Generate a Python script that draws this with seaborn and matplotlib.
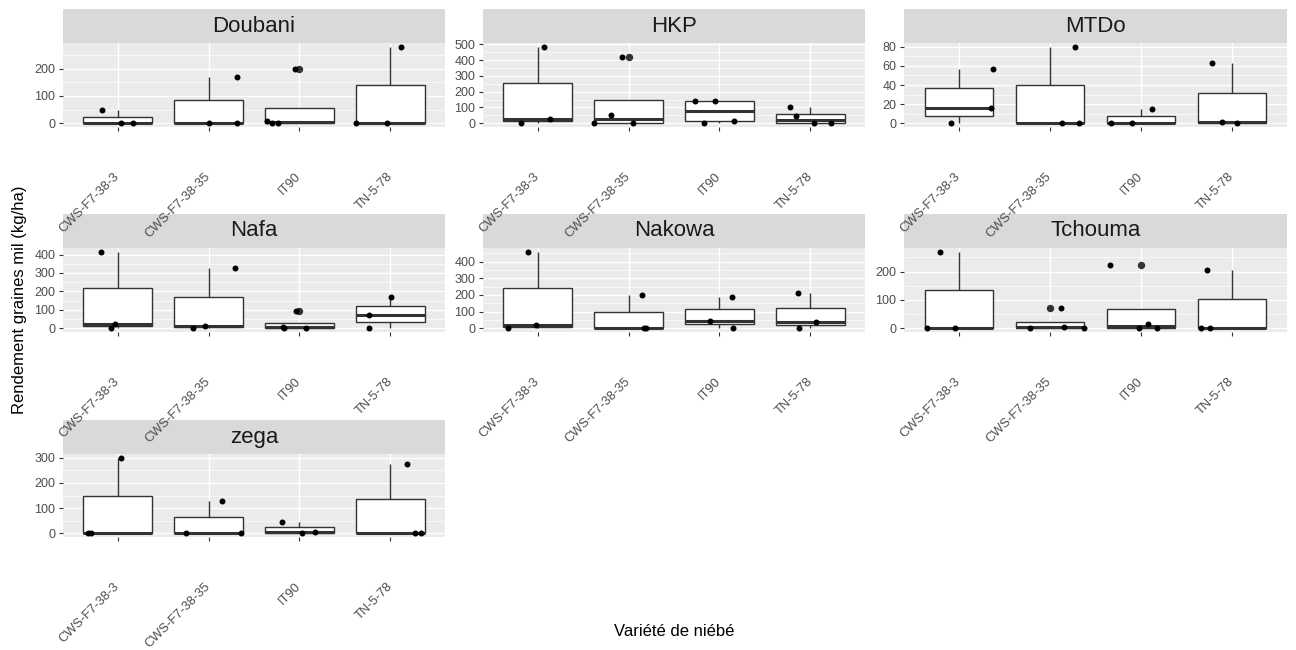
import numpy as np
import pandas as pd
import seaborn as sns
import matplotlib.pyplot as plt
from matplotlib.patches import Rectangle
from matplotlib.ticker import MultipleLocator

plt.rcParams['font.family'] = ['Liberation Sans', 'DejaVu Sans']

# données
varietes = ["CWS-F7-38-3", "CWS-F7-38-35", "IT90", "TN-5-78"]
sites = ["Doubani", "HKP", "MTDo", "Nafa", "Nakowa", "Tchouma", "zega"]

# rendement (kg/ha) par variété, même ordre que varietes
doubani = [[0, 0, 47], [0, 0, 170], [0, 0, 7, 200], [0, 0, 280]]
hkp = [[0, 25, 485], [0, 0, 55, 420], [0, 15, 140, 140], [0, 0, 45, 100]]
mtdo = [[0, 16, 57], [0, 0, 80], [0, 0, 15], [0, 1, 63]]
nafa = [[0, 25, 415], [0, 10, 325], [0, 3, 5, 95], [0, 70, 170]]
nakowa = [[0, 20, 460], [0, 0, 200], [0, 45, 185], [0, 35, 210]]
tchouma = [[0, 0, 270], [0, 0, 5, 70], [0, 0, 15, 225], [0, 0, 205]]
zega = [[0, 0, 300], [0, 0, 127], [0, 3, 45], [0, 0, 275]]

# pas des graduations y par site
pas_y = [100, 100, 20, 100, 100, 100, 100]

lignes = []
for site, blocs in zip(sites, [doubani, hkp, mtdo, nafa, nakowa, tchouma, zega]):
    for var, vals in zip(varietes, blocs):
        for v in vals:
            lignes.append((site, var, v))
df = pd.DataFrame(lignes, columns=["site", "variete", "rendement"])

np.random.seed(3)

W, H = 1296, 650
fig = plt.figure(figsize=(W / 100, H / 100), dpi=100)
fig.patch.set_facecolor('white')

cols = [(63, 382), (483, 382), (904, 383)]
rangs = [(43, 127), (248, 332), (454, 537)]
strip_h = 34

for i, site in enumerate(sites):
    r, c = divmod(i, 3)
    x0, w = cols[c]
    top, bot = rangs[r]
    h = bot - top
    ax = fig.add_axes([x0 / W, 1 - bot / H, w / W, h / H])
    ax.set_zorder(10 - r)
    sub = df[df.site == site]

    sns.boxplot(data=sub, x='variete', y='rendement', order=varietes, ax=ax,
                color='white', linecolor='#333333', linewidth=1.0, width=0.75,
                showcaps=False,
                medianprops={'linewidth': 2.2},
                flierprops={'marker': 'o', 'markerfacecolor': '#333333',
                            'markeredgecolor': '#333333', 'markersize': 4.3})
    sns.stripplot(data=sub, x='variete', y='rendement', order=varietes, ax=ax,
                  jitter=0.4, color='black', size=4.3, linewidth=0, zorder=3)

    lo, hi = sub.rendement.min(), sub.rendement.max()
    pad = 0.05 * (hi - lo)
    ax.set_xlim(-0.6, 3.6)
    ax.set_ylim(lo - pad, hi + pad)
    ax.yaxis.set_major_locator(MultipleLocator(pas_y[i]))
    ax.yaxis.set_minor_locator(MultipleLocator(pas_y[i] / 2))

    ax.set_facecolor('#EBEBEB')
    for s in ax.spines.values():
        s.set_visible(False)
    ax.set_axisbelow(True)
    ax.grid(which='major', color='white', linewidth=1.0)
    ax.grid(which='minor', axis='y', color='white', linewidth=0.5)
    ax.set_xlabel('')
    ax.set_ylabel('')

    ax.tick_params(axis='both', which='major', length=2.6, width=0.8,
                   color='#333333', labelcolor='#4D4D4D', labelsize=9)
    ax.tick_params(axis='y', which='minor', length=0)
    ax.tick_params(axis='y', pad=3)
    ax.tick_params(axis='x', pad=32)
    for lab in ax.get_xticklabels():
        lab.set_rotation(45)
        lab.set_ha('right')
        lab.set_va('center')
        lab.set_rotation_mode('anchor')
        lab.set_fontsize(9.3)

    # bandeau du facet
    ax.add_patch(Rectangle((0, 1), 1, strip_h / h, transform=ax.transAxes,
                           facecolor='#D9D9D9', edgecolor='none', clip_on=False))
    ax.text(0.5, 1 + strip_h / 2 / h, site, transform=ax.transAxes,
            ha='center', va='center', fontsize=16, color='#1A1A1A')

fig.text(674 / W, 1 - 632 / H, 'Variété de niébé', ha='center', va='center',
         fontsize=12)
fig.text(20 / W, 1 - 300 / H, 'Rendement graines mil (kg/ha)', ha='center',
         va='center', rotation=90, fontsize=12)

plt.savefig('out.png', dpi=100)
plt.close()
